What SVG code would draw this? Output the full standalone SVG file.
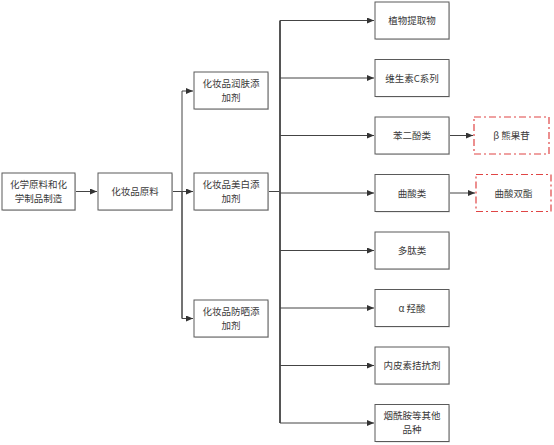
<svg xmlns="http://www.w3.org/2000/svg" width="554" height="445" viewBox="0 0 554 445">
<style>
.box{fill:#fff;stroke:#5a5a5a;stroke-width:1}
.sh{fill:#d8d8d8}
.red{fill:#fff;stroke:#e04545;stroke-width:1.2;stroke-dasharray:7,3,2,3}
text{font-family:"Noto Sans CJK SC","Liberation Serif",serif;font-size:9.5px;fill:#3a3a3a;text-anchor:middle}
.ln{stroke:#444;stroke-width:1;fill:none}
.thick{stroke:#555;stroke-width:2;fill:none}
</style>
<defs>
<marker id="ah" markerWidth="8" markerHeight="6" refX="7" refY="3" orient="auto" markerUnits="userSpaceOnUse">
<path d="M0,0 L7,3 L0,6 Z" fill="#333"/>
</marker>
</defs>
<rect width="554" height="445" fill="#fff"/>
<g id="connectors">
<path class="ln" d="M75,191.5 H97" marker-end="url(#ah)"/>
<path class="ln" d="M172,191.5 H193" marker-end="url(#ah)"/>
<path class="ln" d="M182,318.5 V91 H193" marker-end="url(#ah)"/>
<path class="ln" d="M182,191.5 V318.5 H193" marker-end="url(#ah)"/>
<path class="ln" d="M268,191.5 H280"/>
<path class="thick" d="M280,20.5 V423"/>
<path class="ln" d="M280,20.5 H374" marker-end="url(#ah)"/>
<path class="ln" d="M280,78 H374" marker-end="url(#ah)"/>
<path class="ln" d="M280,135.5 H374" marker-end="url(#ah)"/>
<path class="ln" d="M280,193 H374" marker-end="url(#ah)"/>
<path class="ln" d="M280,250.5 H374" marker-end="url(#ah)"/>
<path class="ln" d="M280,308 H374" marker-end="url(#ah)"/>
<path class="ln" d="M280,365.5 H374" marker-end="url(#ah)"/>
<path class="ln" d="M280,423 H374" marker-end="url(#ah)"/>
<path class="ln" d="M449,135.5 H473" marker-end="url(#ah)"/>
<path class="ln" d="M449,193 H475" marker-end="url(#ah)"/>
</g>
<g id="n1"><rect class="sh" x="3" y="174" width="73" height="37"/><rect class="box" x="2" y="173" width="73" height="37"/><text x="38.5" y="188">化学原料和化</text><text x="38.5" y="202">学制品制造</text></g>
<g id="n2"><rect class="sh" x="99" y="174" width="74" height="37"/><rect class="box" x="98" y="173" width="74" height="37"/><text x="135" y="195">化妆品原料</text></g>
<g id="n3"><rect class="sh" x="195" y="73" width="74" height="37"/><rect class="box" x="194" y="72" width="74" height="37"/><text x="231" y="87">化妆品润肤添</text><text x="231" y="101">加剂</text></g>
<g id="n4"><rect class="sh" x="195" y="174" width="74" height="37"/><rect class="box" x="194" y="173" width="74" height="37"/><text x="231" y="188">化妆品美白添</text><text x="231" y="202">加剂</text></g>
<g id="n5"><rect class="sh" x="195" y="301" width="74" height="37"/><rect class="box" x="194" y="300" width="74" height="37"/><text x="231" y="315">化妆品防晒添</text><text x="231" y="329">加剂</text></g>
<g id="r1"><rect class="sh" x="376" y="3" width="74" height="37"/><rect class="box" x="375" y="2" width="74" height="37"/><text x="412" y="24">植物提取物</text></g>
<g id="r2"><rect class="sh" x="376" y="60.5" width="74" height="37"/><rect class="box" x="375" y="59.5" width="74" height="37"/><text x="412" y="81.5">维生素C系列</text></g>
<g id="r3"><rect class="sh" x="376" y="118" width="74" height="37"/><rect class="box" x="375" y="117" width="74" height="37"/><text x="412" y="139">苯二酚类</text></g>
<g id="r4"><rect class="sh" x="376" y="175.5" width="74" height="37"/><rect class="box" x="375" y="174.5" width="74" height="37"/><text x="412" y="196.5">曲酸类</text></g>
<g id="r5"><rect class="sh" x="376" y="233" width="74" height="37"/><rect class="box" x="375" y="232" width="74" height="37"/><text x="412" y="254">多肽类</text></g>
<g id="r6"><rect class="sh" x="376" y="290.5" width="74" height="37"/><rect class="box" x="375" y="289.5" width="74" height="37"/><text x="412" y="311.5">α 羟酸</text></g>
<g id="r7"><rect class="sh" x="376" y="348" width="74" height="37"/><rect class="box" x="375" y="347" width="74" height="37"/><text x="412" y="369">内皮素拮抗剂</text></g>
<g id="r8"><rect class="sh" x="376" y="405.5" width="74" height="37"/><rect class="box" x="375" y="404.5" width="74" height="37"/><text x="412" y="419">烟酰胺等其他</text><text x="412" y="433">品种</text></g>
<g id="d1"><rect class="red" x="474" y="117" width="75" height="37"/><text x="511.5" y="139">β 熊果苷</text></g>
<g id="d2"><rect class="red" x="476" y="174.5" width="75" height="37"/><text x="513.5" y="196.5">曲酸双酯</text></g>
</svg>
